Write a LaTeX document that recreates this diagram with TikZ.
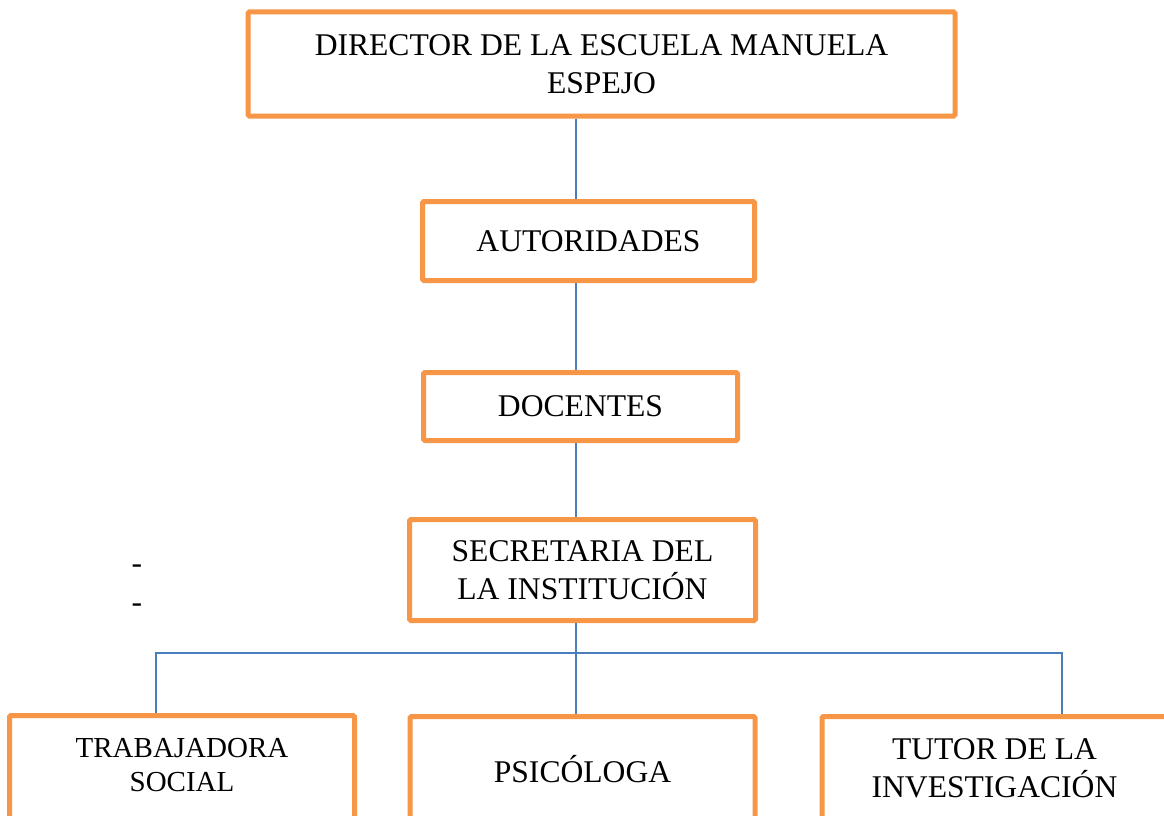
\documentclass[tikz,border=0pt]{standalone}
\usepackage{fontspec}
\setmainfont{Liberation Serif}
\definecolor{boxorange}{HTML}{F79646}
\definecolor{linkblue}{HTML}{4A7EBB}
\begin{document}
\begin{tikzpicture}[x=1pt,y=-1pt,
  orgbox/.style={draw=boxorange, line width=5pt, fill=white, rounded corners=1.5pt,
    inner sep=0pt, align=center, font=\fontsize{31.6}{38}\selectfont},
  smallbox/.style={orgbox, font=\fontsize{29}{34}\selectfont},
  link/.style={draw=linkblue, line width=1.8pt},
  dashmark/.style={inner sep=0pt, anchor=base, font=\fontsize{31.6}{38}\selectfont}]
\useasboundingbox (0,0) rectangle (1164,816);
\clip (0,0) rectangle (1164,816);
\coordinate (trunk) at (576,0);
\coordinate (bl) at (156,653);
\coordinate (br) at (1062,653);
\coordinate (bm) at (576,653);
% boxes
\node[orgbox, minimum width=707pt, minimum height=104pt] (dir) at (601.5,64)
  {DIRECTOR DE LA ESCUELA MANUELA\\ESPEJO};
\node[orgbox, minimum width=332pt, minimum height=79pt] (aut) at (588.5,241) {AUTORIDADES};
\node[orgbox, minimum width=314pt, minimum height=68pt] (doc) at (580.5,406.5) {DOCENTES};
\node[orgbox, minimum width=346pt, minimum height=101pt] (sec) at (582.5,570)
  {SECRETARIA DEL\\LA INSTITUCIÓN};
\node[smallbox, minimum width=345pt, minimum height=110pt] (tra) at (182,770.5) {};
\node[font=\fontsize{29}{34}\selectfont, align=center, inner sep=0pt] (tratext) at (182,765)
  {TRABAJADORA\\SOCIAL};
\node[orgbox, minimum width=345pt, minimum height=110pt] (psi) at (582.5,771.5) {};
\node[font=\fontsize{31.6}{38}\selectfont, inner sep=0pt] (psitext) at (582.5,769) {PSICÓLOGA};
\node[orgbox, minimum width=345pt, minimum height=110pt] (tut) at (994.5,771.5) {};
\node[font=\fontsize{31.6}{38}\selectfont, align=center, inner sep=0pt] (tuttext) at (994.5,768)
  {TUTOR DE LA\\INVESTIGACIÓN};
% dashes
\node[dashmark] (d1) at (137,573) {-};
\node[dashmark] (d2) at (137,612) {-};
% connectors
\draw[link] (dir.south -| trunk) -- (aut.north -| trunk);
\draw[link] (aut.south -| trunk) -- (doc.north -| trunk);
\draw[link] (doc.south -| trunk) -- (sec.north -| trunk);
\draw[link] (sec.south -| trunk) -- (psi.north -| trunk);
\draw[link] (tra.north -| bl) -- (bl) -- (br) -- (tut.north -| br);
\end{tikzpicture}
\end{document}
